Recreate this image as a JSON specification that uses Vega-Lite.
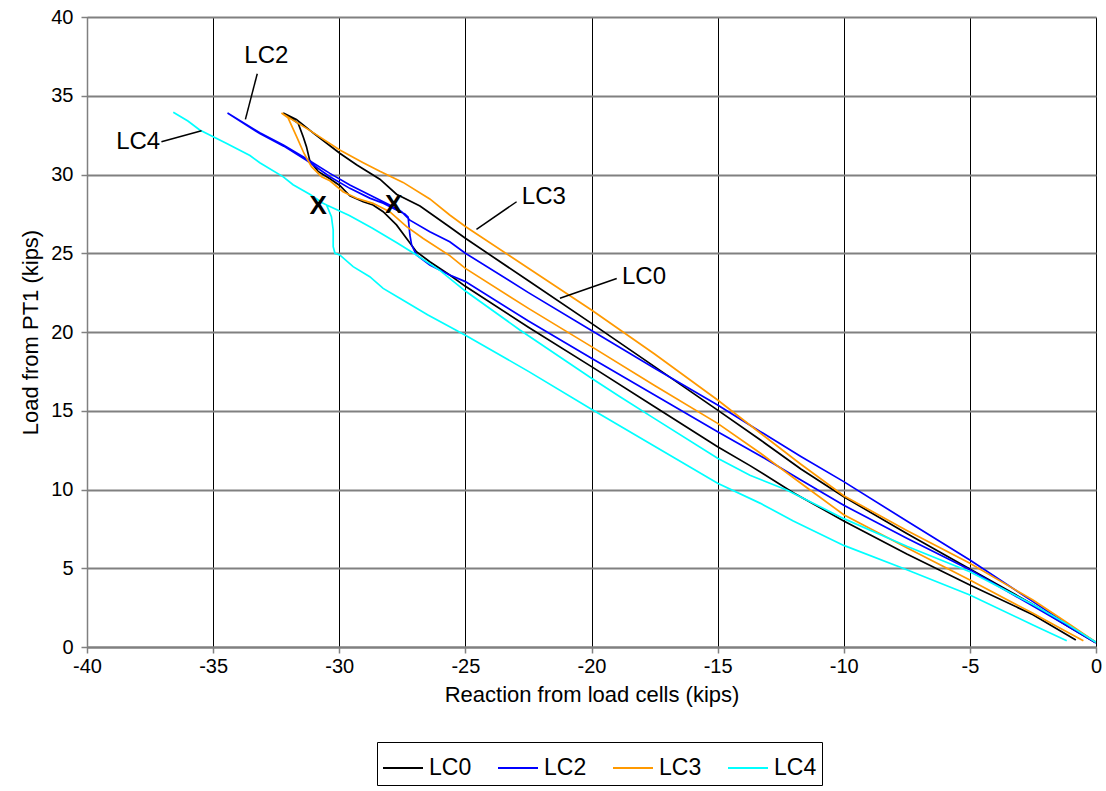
{
  "$schema": "https://vega.github.io/schema/vega-lite/v6.json",
  "width": 1009,
  "height": 630,
  "autosize": {"type": "none"},
  "padding": {"left": 87, "top": 17, "right": 10, "bottom": 144},
  "background": "white",
  "config": {
    "view": {"stroke": null},
    "font": "Liberation Sans",
    "axisX": {"grid": true, "gridColor": "#000000", "gridWidth": 1, "domainColor": "#808080", "domainWidth": 2, "tickColor": "#808080", "tickSize": 6, "tickWidth": 1.5, "labelFontSize": 20, "labelColor": "#000", "labelPadding": 3, "titleFontSize": 22, "titleFontWeight": "normal", "titleColor": "#000", "titlePadding": 8, "labelFlush": false, "labelExpr": "replace(datum.label, '−', '-')"},
    "axisY": {"grid": true, "gridColor": "#808080", "gridWidth": 2, "domainColor": "#808080", "domainWidth": 1.5, "tickColor": "#808080", "tickSize": 6, "tickWidth": 1.5, "labelFontSize": 20, "labelColor": "#000", "labelPadding": 8, "titleFontSize": 22, "titleFontWeight": "normal", "titleColor": "#000", "titlePadding": 8, "labelFlush": false}
  },
  "encoding": {
    "x": {"field": "x", "type": "quantitative", "scale": {"domain": [-40, 0], "nice": false, "zero": false}, "axis": {"tickCount": 8, "title": "Reaction from load cells (kips)"}},
    "y": {"field": "y", "type": "quantitative", "scale": {"domain": [0, 40], "nice": false}, "axis": {"tickCount": 8, "title": "Load from PT1 (kips)"}}
  },
  "layer": [
    {
      "data": {"values": [
        {"s":"LC0","i":1,"x":-0.04,"y":0.3},{"s":"LC0","i":2,"x":-1.2,"y":1.4},{"s":"LC0","i":3,"x":-2.5,"y":2.7},{"s":"LC0","i":4,"x":-5,"y":4.95},{"s":"LC0","i":5,"x":-7.5,"y":7.2},{"s":"LC0","i":6,"x":-10,"y":9.54},{"s":"LC0","i":7,"x":-11.7,"y":11.3},{"s":"LC0","i":8,"x":-13.3,"y":13.14},{"s":"LC0","i":9,"x":-15,"y":15.04},{"s":"LC0","i":10,"x":-17.5,"y":17.8},{"s":"LC0","i":11,"x":-20,"y":20.55},{"s":"LC0","i":12,"x":-22.5,"y":23.25},{"s":"LC0","i":13,"x":-25,"y":25.95},{"s":"LC0","i":14,"x":-25.62,"y":26.67},{"s":"LC0","i":15,"x":-26.8,"y":28.0},{"s":"LC0","i":16,"x":-27.73,"y":28.75},{"s":"LC0","i":17,"x":-28.39,"y":29.7},{"s":"LC0","i":18,"x":-29.3,"y":30.6},{"s":"LC0","i":19,"x":-29.98,"y":31.35},{"s":"LC0","i":20,"x":-31.0,"y":32.6},{"s":"LC0","i":21,"x":-31.7,"y":33.5},{"s":"LC0","i":22,"x":-32.22,"y":33.9},
        {"s":"LC0","i":23,"x":-32.09,"y":33.78},{"s":"LC0","i":24,"x":-31.63,"y":33.25},{"s":"LC0","i":25,"x":-31.43,"y":32.4},{"s":"LC0","i":26,"x":-31.3,"y":31.77},{"s":"LC0","i":27,"x":-31.17,"y":30.9},{"s":"LC0","i":28,"x":-30.84,"y":30.2},{"s":"LC0","i":29,"x":-30.37,"y":29.73},{"s":"LC0","i":30,"x":-29.98,"y":29.3},{"s":"LC0","i":31,"x":-29.58,"y":28.65},{"s":"LC0","i":32,"x":-29.05,"y":28.27},{"s":"LC0","i":33,"x":-28.66,"y":28.06},{"s":"LC0","i":34,"x":-28.26,"y":27.64},{"s":"LC0","i":35,"x":-27.73,"y":26.8},{"s":"LC0","i":36,"x":-27.33,"y":25.94},{"s":"LC0","i":37,"x":-26.94,"y":25.1},{"s":"LC0","i":38,"x":-26.41,"y":24.46},{"s":"LC0","i":39,"x":-25.62,"y":23.62},{"s":"LC0","i":40,"x":-25,"y":22.9},{"s":"LC0","i":41,"x":-22.5,"y":20.3},{"s":"LC0","i":42,"x":-20,"y":17.8},{"s":"LC0","i":43,"x":-17.5,"y":15.25},{"s":"LC0","i":44,"x":-15,"y":12.72},{"s":"LC0","i":45,"x":-13.7,"y":11.5},{"s":"LC0","i":46,"x":-12,"y":9.8},{"s":"LC0","i":47,"x":-10,"y":8.0},{"s":"LC0","i":48,"x":-7.5,"y":5.9},{"s":"LC0","i":49,"x":-5,"y":3.94},{"s":"LC0","i":50,"x":-2.5,"y":2.05},{"s":"LC0","i":51,"x":-0.8,"y":0.45},

        {"s":"LC2","i":1,"x":0,"y":0.3},{"s":"LC2","i":2,"x":-1.2,"y":1.5},{"s":"LC2","i":3,"x":-2.5,"y":2.88},{"s":"LC2","i":4,"x":-5,"y":5.52},{"s":"LC2","i":5,"x":-7.5,"y":8.0},{"s":"LC2","i":6,"x":-10,"y":10.5},{"s":"LC2","i":7,"x":-11.7,"y":12.1},{"s":"LC2","i":8,"x":-13.3,"y":13.67},{"s":"LC2","i":9,"x":-15,"y":15.37},{"s":"LC2","i":10,"x":-17.5,"y":17.7},{"s":"LC2","i":11,"x":-20,"y":20.1},{"s":"LC2","i":12,"x":-22.5,"y":22.5},{"s":"LC2","i":13,"x":-25,"y":25.0},{"s":"LC2","i":14,"x":-25.62,"y":25.73},{"s":"LC2","i":15,"x":-26.41,"y":26.37},{"s":"LC2","i":16,"x":-27.2,"y":27.1},{"s":"LC2","i":17,"x":-27.53,"y":27.64},{"s":"LC2","i":18,"x":-28.0,"y":28.06},{"s":"LC2","i":19,"x":-28.79,"y":28.7},{"s":"LC2","i":20,"x":-29.58,"y":29.33},{"s":"LC2","i":21,"x":-30.37,"y":30.07},{"s":"LC2","i":22,"x":-31.3,"y":31.0},{"s":"LC2","i":23,"x":-32.2,"y":31.85},{"s":"LC2","i":24,"x":-33.15,"y":32.65},{"s":"LC2","i":25,"x":-34.43,"y":33.9},
        {"s":"LC2","i":26,"x":-33.15,"y":32.6},{"s":"LC2","i":27,"x":-32.2,"y":31.8},{"s":"LC2","i":28,"x":-31.3,"y":30.9},{"s":"LC2","i":29,"x":-30.37,"y":29.86},{"s":"LC2","i":30,"x":-29.58,"y":29.12},{"s":"LC2","i":31,"x":-28.79,"y":28.5},{"s":"LC2","i":32,"x":-28.26,"y":28.17},{"s":"LC2","i":33,"x":-27.73,"y":27.75},{"s":"LC2","i":34,"x":-27.4,"y":27.5},{"s":"LC2","i":35,"x":-27.27,"y":27.3},{"s":"LC2","i":36,"x":-27.2,"y":26.16},{"s":"LC2","i":37,"x":-27.13,"y":25.52},{"s":"LC2","i":38,"x":-26.94,"y":24.89},{"s":"LC2","i":39,"x":-26.41,"y":24.25},{"s":"LC2","i":40,"x":-25.62,"y":23.62},{"s":"LC2","i":41,"x":-25,"y":23.2},{"s":"LC2","i":42,"x":-22.5,"y":20.7},{"s":"LC2","i":43,"x":-20,"y":18.33},{"s":"LC2","i":44,"x":-17.5,"y":16.0},{"s":"LC2","i":45,"x":-15,"y":13.67},{"s":"LC2","i":46,"x":-13.3,"y":12.13},{"s":"LC2","i":47,"x":-11.7,"y":10.6},{"s":"LC2","i":48,"x":-10,"y":9.0},{"s":"LC2","i":49,"x":-7.5,"y":6.9},{"s":"LC2","i":50,"x":-5,"y":4.9},{"s":"LC2","i":51,"x":-2.5,"y":2.6},{"s":"LC2","i":52,"x":-1.2,"y":1.4},{"s":"LC2","i":53,"x":0,"y":0.25},

        {"s":"LC3","i":1,"x":0,"y":0.3},{"s":"LC3","i":2,"x":-1.2,"y":1.6},{"s":"LC3","i":3,"x":-2.5,"y":2.98},{"s":"LC3","i":4,"x":-5,"y":5.31},{"s":"LC3","i":5,"x":-7.5,"y":7.4},{"s":"LC3","i":6,"x":-10,"y":9.6},{"s":"LC3","i":7,"x":-11.7,"y":11.6},{"s":"LC3","i":8,"x":-13.3,"y":13.57},{"s":"LC3","i":9,"x":-15,"y":15.68},{"s":"LC3","i":10,"x":-17.5,"y":18.6},{"s":"LC3","i":11,"x":-20,"y":21.4},{"s":"LC3","i":12,"x":-22.5,"y":24.05},{"s":"LC3","i":13,"x":-25,"y":26.7},{"s":"LC3","i":14,"x":-25.62,"y":27.43},{"s":"LC3","i":15,"x":-26.41,"y":28.45},{"s":"LC3","i":16,"x":-27.47,"y":29.5},{"s":"LC3","i":17,"x":-28.39,"y":30.2},{"s":"LC3","i":18,"x":-29.05,"y":30.75},{"s":"LC3","i":19,"x":-29.98,"y":31.56},{"s":"LC3","i":20,"x":-31.17,"y":32.8},{"s":"LC3","i":21,"x":-32.29,"y":33.9},
        {"s":"LC3","i":22,"x":-32.03,"y":33.6},{"s":"LC3","i":23,"x":-31.93,"y":33.25},{"s":"LC3","i":24,"x":-31.69,"y":32.4},{"s":"LC3","i":25,"x":-31.4,"y":31.35},{"s":"LC3","i":26,"x":-31.1,"y":30.5},{"s":"LC3","i":27,"x":-30.7,"y":29.86},{"s":"LC3","i":28,"x":-30.37,"y":29.6},{"s":"LC3","i":29,"x":-29.85,"y":28.91},{"s":"LC3","i":30,"x":-29.31,"y":28.49},{"s":"LC3","i":31,"x":-28.66,"y":28.17},{"s":"LC3","i":32,"x":-28.0,"y":27.64},{"s":"LC3","i":33,"x":-27.33,"y":26.69},{"s":"LC3","i":34,"x":-26.67,"y":25.94},{"s":"LC3","i":35,"x":-25.62,"y":24.85},{"s":"LC3","i":36,"x":-25,"y":24.04},{"s":"LC3","i":37,"x":-22.5,"y":21.5},{"s":"LC3","i":38,"x":-20,"y":19.07},{"s":"LC3","i":39,"x":-17.5,"y":16.6},{"s":"LC3","i":40,"x":-15,"y":14.2},{"s":"LC3","i":41,"x":-13.3,"y":12.3},{"s":"LC3","i":42,"x":-11.7,"y":10.4},{"s":"LC3","i":43,"x":-10,"y":8.4},{"s":"LC3","i":44,"x":-7.5,"y":6.3},{"s":"LC3","i":45,"x":-5,"y":4.25},{"s":"LC3","i":46,"x":-2.5,"y":2.14},{"s":"LC3","i":47,"x":-1.2,"y":1.0},{"s":"LC3","i":48,"x":-0.5,"y":0.4},

        {"s":"LC4","i":1,"x":0,"y":0.3},{"s":"LC4","i":2,"x":-1.2,"y":1.5},{"s":"LC4","i":3,"x":-2.5,"y":2.7},{"s":"LC4","i":4,"x":-5,"y":4.78},{"s":"LC4","i":5,"x":-7.5,"y":6.4},{"s":"LC4","i":6,"x":-10,"y":8.15},{"s":"LC4","i":7,"x":-12.26,"y":9.97},{"s":"LC4","i":8,"x":-13.72,"y":10.9},{"s":"LC4","i":9,"x":-15,"y":11.98},{"s":"LC4","i":10,"x":-17.5,"y":14.5},{"s":"LC4","i":11,"x":-18.87,"y":15.89},{"s":"LC4","i":12,"x":-20,"y":17.06},{"s":"LC4","i":13,"x":-22.84,"y":20.13},{"s":"LC4","i":14,"x":-25,"y":22.6},{"s":"LC4","i":15,"x":-26.0,"y":23.9},{"s":"LC4","i":16,"x":-27.0,"y":24.95},{"s":"LC4","i":17,"x":-27.7,"y":25.65},{"s":"LC4","i":18,"x":-28.7,"y":26.6},{"s":"LC4","i":19,"x":-29.6,"y":27.4},{"s":"LC4","i":20,"x":-30.5,"y":28.06},
        {"s":"LC4","i":21,"x":-30.64,"y":28.17},{"s":"LC4","i":22,"x":-31.17,"y":28.75},{"s":"LC4","i":23,"x":-31.83,"y":29.35},{"s":"LC4","i":24,"x":-32.22,"y":29.85},{"s":"LC4","i":25,"x":-33.15,"y":30.75},{"s":"LC4","i":26,"x":-33.54,"y":31.2},{"s":"LC4","i":27,"x":-34.5,"y":32.0},{"s":"LC4","i":28,"x":-35.53,"y":32.83},{"s":"LC4","i":29,"x":-36.0,"y":33.4},{"s":"LC4","i":30,"x":-36.58,"y":33.95},
        {"s":"LC4","i":31,"x":-36.0,"y":33.4},{"s":"LC4","i":32,"x":-35.53,"y":32.83},{"s":"LC4","i":33,"x":-34.5,"y":32.0},{"s":"LC4","i":34,"x":-33.54,"y":31.2},{"s":"LC4","i":35,"x":-33.15,"y":30.75},{"s":"LC4","i":36,"x":-32.22,"y":29.85},{"s":"LC4","i":37,"x":-31.83,"y":29.35},{"s":"LC4","i":38,"x":-31.17,"y":28.75},{"s":"LC4","i":39,"x":-30.64,"y":28.17},{"s":"LC4","i":40,"x":-30.5,"y":28.06},
        {"s":"LC4","i":41,"x":-30.31,"y":27.32},{"s":"LC4","i":42,"x":-30.24,"y":26.48},{"s":"LC4","i":43,"x":-30.24,"y":25.42},{"s":"LC4","i":44,"x":-30.17,"y":25.0},{"s":"LC4","i":45,"x":-29.98,"y":24.89},{"s":"LC4","i":46,"x":-29.45,"y":24.15},{"s":"LC4","i":47,"x":-28.79,"y":23.51},{"s":"LC4","i":48,"x":-28.26,"y":22.77},{"s":"LC4","i":49,"x":-27.6,"y":22.14},{"s":"LC4","i":50,"x":-26.5,"y":21.1},{"s":"LC4","i":51,"x":-25,"y":19.8},{"s":"LC4","i":52,"x":-22.5,"y":17.5},{"s":"LC4","i":53,"x":-20,"y":15.1},{"s":"LC4","i":54,"x":-17.5,"y":12.75},{"s":"LC4","i":55,"x":-15,"y":10.4},{"s":"LC4","i":56,"x":-13.3,"y":9.12},{"s":"LC4","i":57,"x":-12,"y":8.0},{"s":"LC4","i":58,"x":-10,"y":6.45},{"s":"LC4","i":59,"x":-7.5,"y":4.9},{"s":"LC4","i":60,"x":-5,"y":3.3},{"s":"LC4","i":61,"x":-2.5,"y":1.4},{"s":"LC4","i":62,"x":-1.16,"y":0.4}
      ]},
      "mark": {"type": "line", "strokeWidth": 1.7, "clip": true},
      "encoding": {
        "order": {"field": "i", "type": "quantitative"},
        "color": {"field": "s", "type": "nominal",
          "scale": {"domain": ["LC0", "LC2", "LC3", "LC4"], "range": ["#000000", "#0000FF", "#FF9900", "#00FFFF"]},
          "legend": {"orient": "none", "legendX": 290, "legendY": 725, "direction": "horizontal", "title": null, "symbolType": "stroke", "symbolSize": 1600, "symbolStrokeWidth": 2, "labelFontSize": 23, "labelColor": "#000", "columnPadding": 22, "padding": 5, "strokeColor": "#000000", "fillColor": "#ffffff", "labelLimit": 0, "labelOffset": 5}
        }
      }
    },
    {
      "data": {"values": [
        {"x": -33.25, "y": 36.4, "x2": -33.72, "y2": 33.5},
        {"x": -37.05, "y": 32.08, "x2": -35.46, "y2": 32.78},
        {"x": -22.97, "y": 28.27, "x2": -24.56, "y2": 26.52},
        {"x": -19.0, "y": 23.4, "x2": -21.25, "y2": 22.14}
      ]},
      "mark": {"type": "rule", "color": "#000000", "strokeWidth": 1.5},
      "encoding": {
        "x2": {"field": "x2"},
        "y2": {"field": "y2"}
      }
    },
    {
      "data": {"values": [
        {"x": -32.89, "y": 37.5, "t": "LC2"},
        {"x": -37.97, "y": 32.06, "t": "LC4"},
        {"x": -21.89, "y": 28.6, "t": "LC3"},
        {"x": -17.92, "y": 23.51, "t": "LC0"}
      ]},
      "mark": {"type": "text", "fontSize": 24, "color": "#000000", "align": "center", "baseline": "middle"},
      "encoding": {"text": {"field": "t"}}
    },
    {
      "data": {"values": [
        {"x": -30.84, "y": 28.0, "t": "X"},
        {"x": -27.84, "y": 28.06, "t": "X"}
      ]},
      "mark": {"type": "text", "fontSize": 26, "fontWeight": "bold", "color": "#000000", "align": "center", "baseline": "middle"},
      "encoding": {"text": {"field": "t"}}
    }
  ]
}
